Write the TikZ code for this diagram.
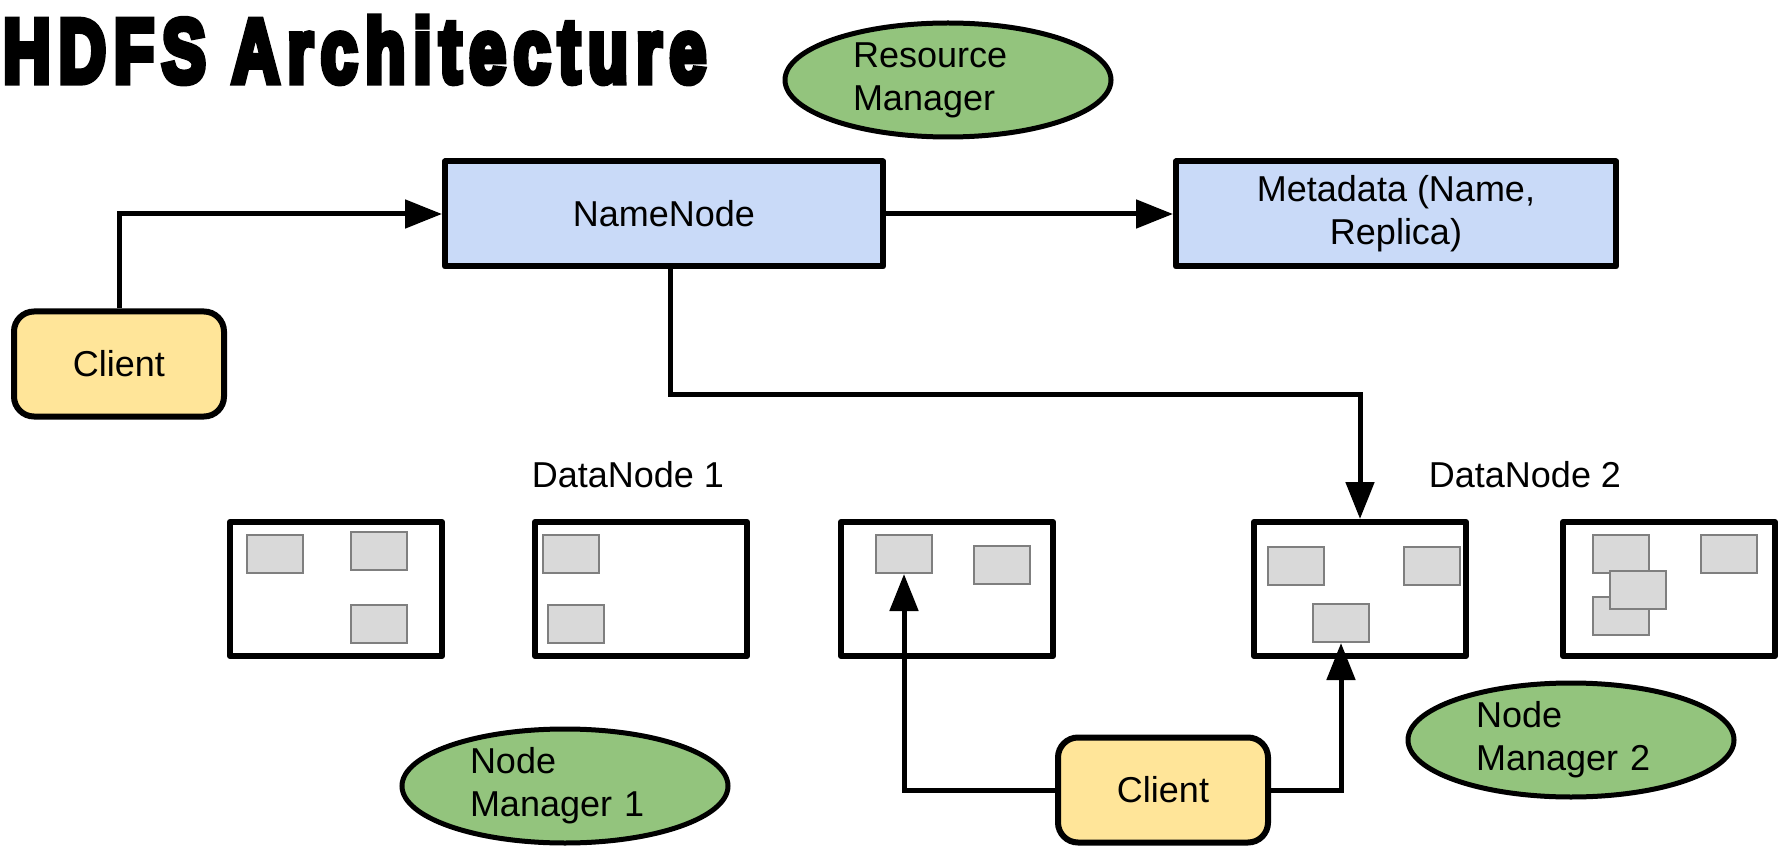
\documentclass[tikz,border=0pt]{standalone}
\usepackage{fontspec}
\usepackage{graphicx}
\setmainfont{Liberation Sans}
\usetikzlibrary{shapes.geometric,arrows.meta}

\definecolor{nnblue}{HTML}{C9DAF8}
\definecolor{mgrgreen}{HTML}{93C47D}
\definecolor{clientyellow}{HTML}{FFE599}
\definecolor{blockgray}{HTML}{D9D9D9}
\definecolor{blockedge}{HTML}{7F7F7F}

% heavy display face for the heading
\font\titlefnt="Liberation Sans Bold:embolden=8;letterspace=12" at 90pt

\begin{document}
\begin{tikzpicture}[x=1pt,y=-1pt,
  every node/.style={font=\fontsize{36}{43}\selectfont},
  master/.style={draw, line width=6pt, line join=round, fill=nnblue,
    minimum width=438pt, minimum height=105pt, align=center},
  client/.style={draw, line width=6pt, fill=clientyellow, rounded corners=20pt,
    minimum width=210pt, minimum height=105pt},
  manager/.style={draw, ellipse, line width=5pt, fill=mgrgreen,
    minimum width=326pt, minimum height=114pt, inner sep=0pt,
    text width=190pt, align=left},
  datanode/.style={draw, line width=6pt, line join=round, fill=white,
    minimum width=212pt, minimum height=134pt},
  block/.style={draw=blockedge, line width=2pt, fill=blockgray,
    minimum width=56pt, minimum height=38pt, inner sep=0pt},
  link/.style={line width=5pt, -{Triangle[length=37pt,width=28pt]}},
  label/.style={inner sep=0pt}
]
\useasboundingbox (0,0) rectangle (1781,850);

% heading
\node[anchor=base west, inner sep=0pt] (title) at (3,82)
  {\resizebox{703pt}{65pt}{\titlefnt HDFS Architecture}};

% master side
\node[manager] (rm) at (948,80) {Resource\\Manager};
\node[master] (nn) at (664,214) {NameNode};
\node[master, minimum width=440pt] (meta) at (1396,214) {Metadata (Name,\\Replica)};
\node[client] (c1) at (119,364) {Client};

% data nodes
\node[datanode] (d1) at (336,589) {};
\node[datanode] (d2) at (641,589) {};
\node[datanode] (d3) at (947,589) {};
\node[datanode] (d4) at (1360,589) {};
\node[datanode] (d5) at (1669,589) {};

\node[label] (dn1) at (628,475) {DataNode 1};
\node[label] (dn2) at (1525,475) {DataNode 2};

% stored blocks
\node[block] (g1a) at (275,554) {};
\node[block] (g1b) at (379,551) {};
\node[block] (g1c) at (379,624) {};
\node[block] (g2a) at (571,554) {};
\node[block] (g2b) at (576,624) {};
\node[block] (g3a) at (904,554) {};
\node[block] (g3b) at (1002,565) {};
\node[block] (g4a) at (1296,566) {};
\node[block] (g4b) at (1432,566) {};
\node[block] (g4c) at (1341,623) {};
\node[block] (g5a) at (1621,554) {};
\node[block] (g5b) at (1729,554) {};
\node[block] (g5c) at (1621,616) {};
\node[block] (g5d) at (1638,590) {};

% node managers and the second client
\node[manager] (nm1) at (565,786) {Node\\Manager 1};
\node[manager] (nm2) at (1571,740) {Node\\Manager 2};
\node[client] (c2) at (1163,790) {Client};

% connectors
\draw[link] (c1.north) |- (nn.west);
\draw[link] (nn.east) -- (meta.west);
\coordinate (nnout) at ([xshift=6pt]nn.south);
\coordinate (bend) at (670,394);
\draw[link] (nnout) -- (bend) -| (d4.north);
\draw[link] (c2.west) -| (g3a.south);
\draw[link] (c2.east) -| (g4c.south);
\end{tikzpicture}
\end{document}
